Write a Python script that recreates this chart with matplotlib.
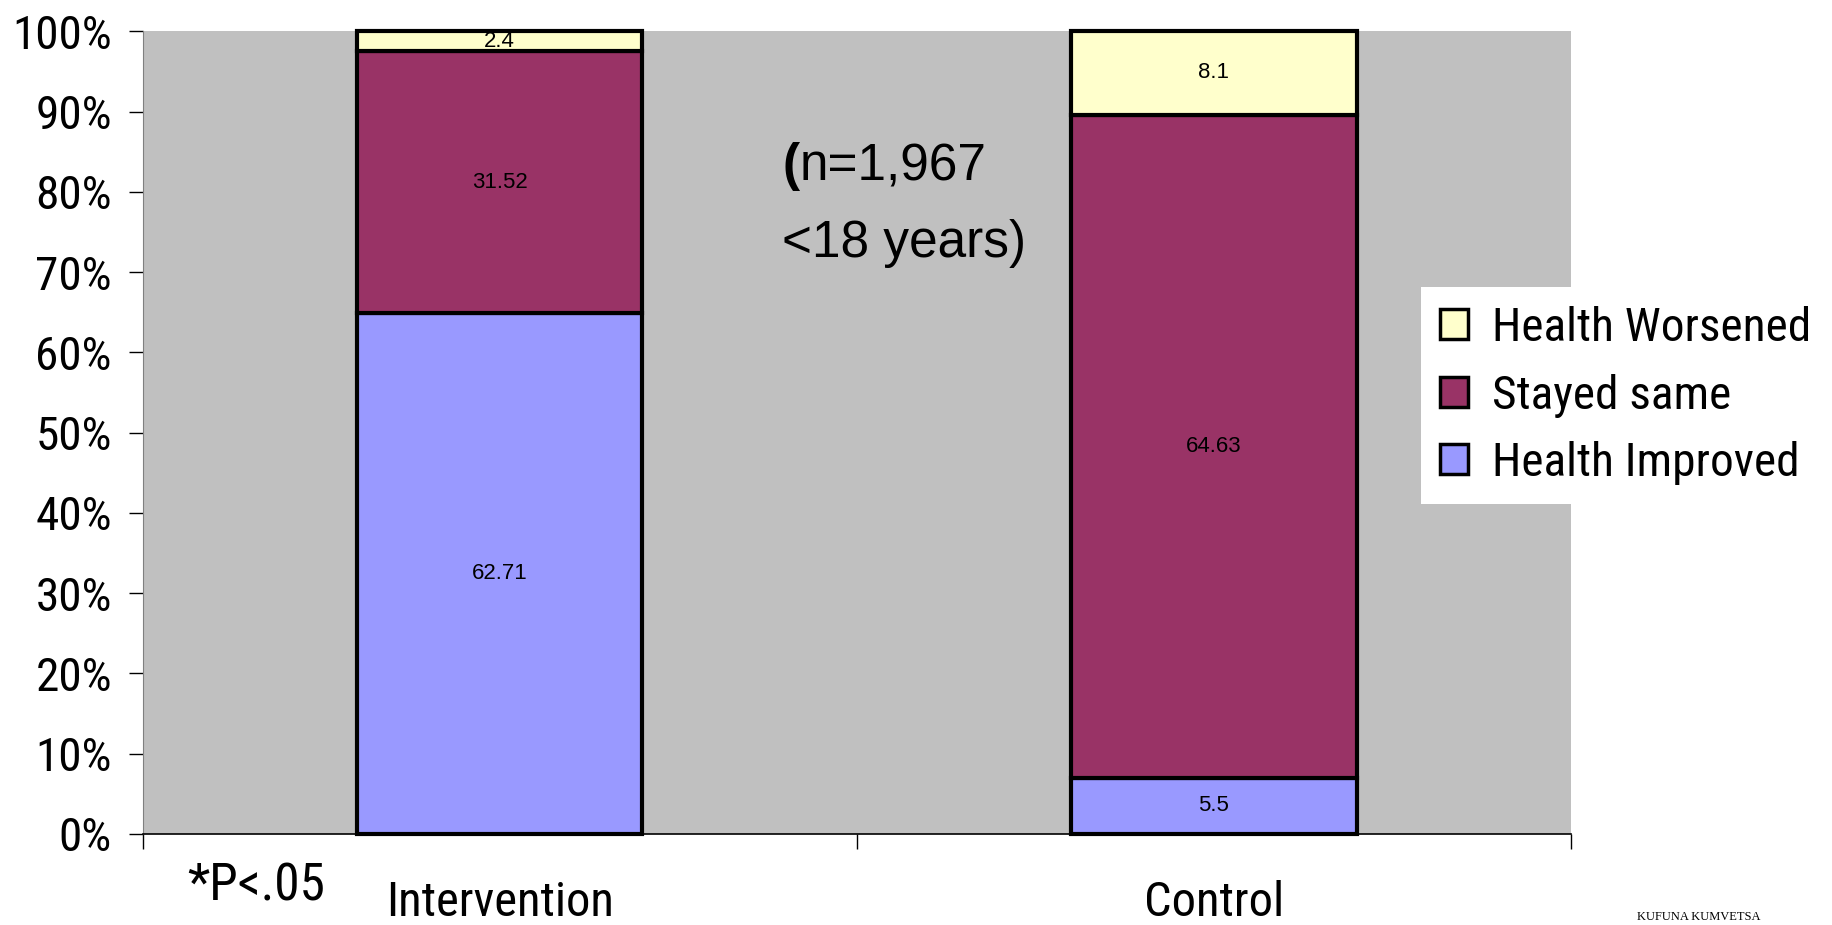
import numpy as np
import matplotlib.pyplot as plt
from matplotlib.patches import Rectangle
from matplotlib.ticker import PercentFormatter

# raw segment values per group (bars are drawn as 100% stacks)
groups = ['Intervention', 'Control']
improved = [62.71, 5.5]
same = [31.52, 64.63]
worsened = [2.4, 8.1]

series = ['Health Improved', 'Stayed same', 'Health Worsened']
colors = ['#9999FF', '#993366', '#FFFFCC']

narrow = ['Roboto Condensed', 'Liberation Sans', 'DejaVu Sans']
plain = ['Liberation Sans', 'DejaVu Sans']
plt.rcParams['font.family'] = narrow

raw = np.array([improved, same, worsened])
share = raw / raw.sum(axis=0)

fig = plt.figure(figsize=(18.32, 9.25), dpi=100)
ax = fig.add_axes([0.0778, 0.0984, 0.7797, 0.8676])
ax.set_facecolor('#C0C0C0')

x = np.arange(len(groups))
bottom = np.zeros(len(groups))
handles = []
for vals, nums, name, c in zip(share, raw, series, colors):
    bars = ax.bar(x, vals, 0.4, bottom=bottom, color=c, edgecolor='black',
                  linewidth=3, label=name, zorder=3)
    for b in bars:
        b.set_clip_on(False)
    ax.bar_label(bars, labels=[f'{v:g}' for v in nums], label_type='center',
                 fontsize=16, family=plain)
    bottom += vals
    handles.append(Rectangle((0, 0), 1, 1, facecolor=c, edgecolor='black', linewidth=2.5))

ax.set_xlim(-0.5, 1.5)
ax.set_ylim(0, 1)
ax.yaxis.set_major_locator(plt.MultipleLocator(0.1))
ax.yaxis.set_major_formatter(PercentFormatter(xmax=1, decimals=0))
ax.tick_params(axis='y', labelsize=34, length=10, width=1, pad=12, direction='out')

ax.set_xticks(x, groups)
ax.set_xticks([-0.5, 0.5, 1.5], minor=True)
ax.tick_params(axis='x', which='major', length=0, labelsize=35, pad=33)
ax.tick_params(axis='x', which='minor', length=11, width=1, direction='out')

for s in ['top', 'right']:
    ax.spines[s].set_visible(False)
ax.spines['left'].set_color('#808080')
ax.spines['bottom'].set_linewidth(1.2)

# sample note, bold opening paren
paren = fig.text(0.4269, 0.8054, '(', fontsize=37, family=plain,
                 fontweight='bold', va='baseline')
ax.annotate('n=1,967', xy=(1, 0), xycoords=paren, fontsize=37,
            family=plain, va='bottom', ha='left')
fig.text(0.4269, 0.7222, '<18 years)', fontsize=37, family=plain, va='baseline')

fig.text(0.102, 0.027, '*P<.05', fontsize=37, va='baseline')

fig.legend(handles[::-1], series[::-1], loc='upper left',
           bbox_to_anchor=(0.7757, 0.6897), fontsize=34, frameon=True,
           fancybox=False, facecolor='white', edgecolor='none', framealpha=1,
           handlelength=0.6, handleheight=0.6, handletextpad=0.5,
           labelspacing=0.5, borderpad=0.4, borderaxespad=0)

fig.text(1637 / 1832, 0.002, 'KUFUNA KUMVETSA', family=['Liberation Serif'],
         fontsize=9, va='bottom')

fig.savefig('out.png', dpi=100)
